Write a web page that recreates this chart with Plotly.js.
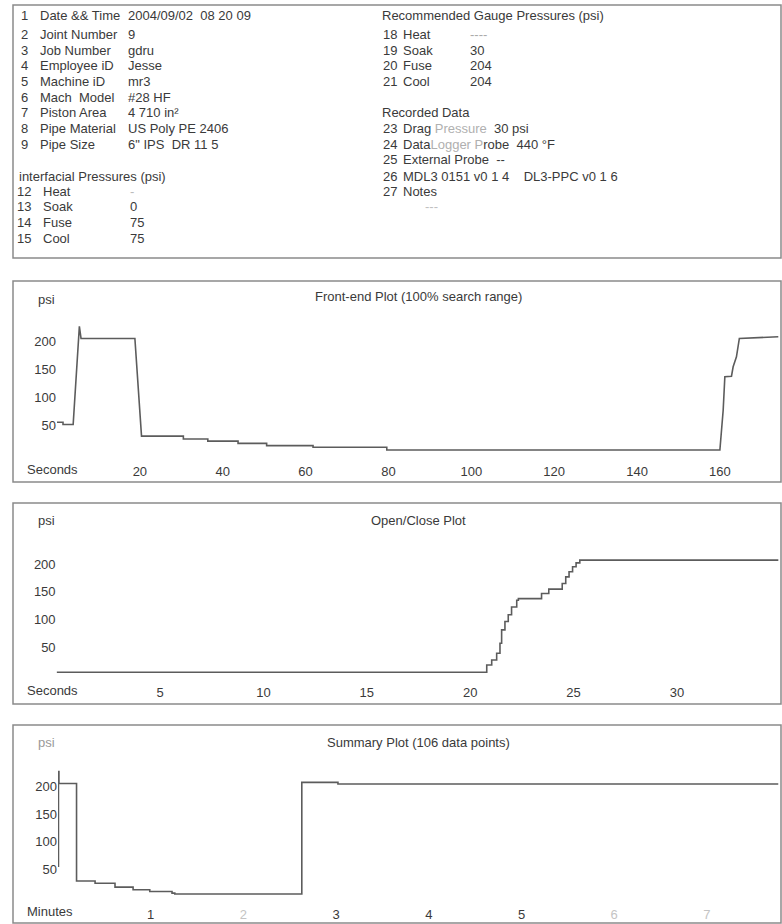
<!DOCTYPE html>
<html><head><meta charset="utf-8">
<script src="https://cdn.plot.ly/plotly-3.0.1.min.js"></script>
<style>html,body{margin:0;padding:0;background:#fff}#chart{width:782px;height:924px}</style>
</head><body><div id="chart"></div>
<script>
// ---------------- data ----------------
const frontSeconds = [0, 1.45, 1.45, 3.9, 5.4, 5.8, 18.8, 20.4, 30.5, 30.5, 36.4, 36.4, 43.7, 43.7, 50.6, 50.6, 61.8, 61.8, 79.6, 79.6, 160.0, 160.8, 161.2, 162.8, 163.2, 164.0, 164.7, 174.1];
const frontPsi     = [55, 55, 51, 51, 228, 206, 206, 30, 30, 25, 25, 21, 21, 17, 17, 13, 13, 10, 10, 5, 5, 77, 137, 138, 155, 173, 206, 209];

const openCloseSeconds = [0, 20.8, 21.04, 21.28, 21.44, 21.52, 21.68, 21.84, 22.0, 22.25, 22.33, 23.45, 23.8, 24.45, 24.62, 24.78, 24.95, 25.12, 25.3, 34.9];
const openClosePsi     = [6, 19, 28, 40, 58, 82, 97, 109, 123, 135, 138, 147, 155, 165, 177, 186, 195, 202, 207, 207];

const summaryMinutes = [0, 0.005, 0.01, 0.2, 0.4, 0.615, 0.81, 0.99, 1.23, 1.26, 2.63, 3.02, 7.77];
const summaryPsi     = [55, 228, 206, 28, 24, 17, 12, 9, 6, 4.5, 208, 205, 205];

const psiTicks = [50, 100, 150, 200];
const frontTicks = [20, 40, 60, 80, 100, 120, 140, 160];
const openCloseTicks = [5, 10, 15, 20, 25, 30];
const summaryTicks = [1, 2, 3, 4, 5, 6, 7];
const summaryTickText = ['1', '<span style="color:#c4c4c4">2</span>', '3', '4', '5', '<span style="color:#c4c4c4">6</span>', '<span style="color:#c4c4c4">7</span>'];

const plotTitles = ['Front-end Plot (100% search range)', 'Open/Close Plot', 'Summary Plot (106 data points)'];
const xUnitLabels = ['Seconds', 'Seconds', 'Minutes'];

const jobNumbers = ['1','2','3','4','5','6','7','8','9'];
const jobLabels  = ['Date &amp;&amp; Time','Joint Number','Job Number','Employee iD','Machine iD','Mach  Model','Piston Area','Pipe Material','Pipe Size'];
const jobValues  = ['2004/09/02  08 20 09','9','gdru','Jesse','mr3','#28 HF','4 710 in²','US Poly PE 2406','6" IPS  DR 11 5'];

const interfacialHeader = 'interfacial Pressures (psi)';
const interfacialNumbers = ['12','13','14','15'];
const interfacialLabels  = ['Heat','Soak','Fuse','Cool'];
const interfacialValues  = ['<span style="color:#bbb">-</span>','0','75','75'];

const gaugeHeader = 'Recommended Gauge Pressures (psi)';
const gaugeNumbers = ['18','19','20','21'];
const gaugeLabels  = ['Heat','Soak','Fuse','Cool'];
const gaugeValues  = ['<span style="color:#aaa">----</span>','30','204','204'];

const recordedHeader = 'Recorded Data';
const recordedNumbers = ['23','24','25','26','27'];
const recordedLines = [
  'Drag <span style="color:#b0b0b0">Pressure</span>  30 psi',
  'Data<span style="color:#b0b0b0">Logger P</span>robe  440 °F',
  'External Probe  --',
  'MDL3 0151 v0 1 4    DL3-PPC v0 1 6',
  'Notes'
];
const notesValue = '<span style="color:#c0c0c0">---</span>';

// ---------------- layout helpers ----------------
const W = 782, H = 924;
const FONT = 'Liberation Sans, Arial, sans-serif';
const TXT = '#3a3a3a';
const px = x => x / W;
const py = y => 1 - y / H;

function note(x, y, text, anchor, extra) {
  return Object.assign({
    xref: 'paper', yref: 'paper', x: px(x), y: py(y),
    xanchor: anchor || 'left', yanchor: 'middle', text: text, showarrow: false, borderpad: 0,
    font: {family: FONT, size: 13, color: TXT}
  }, extra || {});
}

// plot geometry (pixels): x origin, px per unit, y zero line, px per psi, top
const geo = [
  {x0: 57,   sx: 4.143, y0: 452.8, sy: 0.555, top: 305, box: [281, 482], title: 296.7, psiY: 299,   lab: 469},
  {x0: 56.6, sx: 20.68, y0: 675.6, sy: 0.558, top: 530, box: [503, 704], title: 520.7, psiY: 520.7, lab: 690},
  {x0: 58,   sx: 92.7,  y0: 896.4, sy: 0.548, top: 752, box: [725, 923], title: 742,   psiY: 742,   lab: 911.5}
];

const lineStyle = {color: '#5c5c5c', width: 1.6};
const traces = [
  {x: frontSeconds, y: frontPsi, xaxis: 'x', yaxis: 'y', type: 'scatter', mode: 'lines', line: Object.assign({shape: 'linear'}, lineStyle), hoverinfo: 'skip'},
  {x: openCloseSeconds, y: openClosePsi, xaxis: 'x2', yaxis: 'y2', type: 'scatter', mode: 'lines', line: Object.assign({shape: 'hv'}, lineStyle), hoverinfo: 'skip'},
  {x: summaryMinutes, y: summaryPsi, xaxis: 'x3', yaxis: 'y3', type: 'scatter', mode: 'lines', line: Object.assign({shape: 'hv'}, lineStyle), hoverinfo: 'skip'}
];

const tickSets = [
  {vals: frontTicks, text: frontTicks.map(String)},
  {vals: openCloseTicks, text: openCloseTicks.map(String)},
  {vals: summaryTicks, text: summaryTickText}
];

const layout = {
  width: W, height: H, margin: {l: 0, r: 0, t: 0, b: 0},
  paper_bgcolor: '#fff', plot_bgcolor: 'rgba(0,0,0,0)',
  showlegend: false, font: {family: FONT, size: 13, color: TXT},
  shapes: [], annotations: []
};

geo.forEach((g, i) => {
  const sfx = i === 0 ? '' : String(i + 1);
  layout['xaxis' + sfx] = {
    domain: [px(g.x0), 1], range: [0, (W - g.x0) / g.sx],
    anchor: 'y' + sfx, showgrid: false, zeroline: false, showline: false,
    ticks: 'outside', ticklen: Math.max(0, g.lab - g.y0 - 9.5), tickcolor: 'rgba(0,0,0,0)',
    tickmode: 'array', tickvals: tickSets[i].vals, ticktext: tickSets[i].text,
    tickfont: {family: FONT, size: 13, color: TXT},
    fixedrange: true
  };
  layout['yaxis' + sfx] = {
    domain: [py(g.y0), py(g.top)], range: [0, (g.y0 - g.top) / g.sy],
    anchor: 'x' + sfx, showgrid: false, zeroline: false, showline: false, ticks: '',
    tickmode: 'array', tickvals: psiTicks,
    tickfont: {family: FONT, size: 13, color: TXT},
    fixedrange: true
  };
  layout.shapes.push({type: 'rect', xref: 'paper', yref: 'paper', x0: px(13), x1: px(781), y0: py(g.box[1]), y1: py(g.box[0]), line: {color: '#8a8a8a', width: 1.5}});
  layout.annotations.push(note(418, g.title, plotTitles[i], 'center'));
  layout.annotations.push(note(46.5, g.psiY, 'psi', 'center', i === 2 ? {font: {family: FONT, size: 13, color: '#999'}} : {}));
  layout.annotations.push(note(26, g.lab, xUnitLabels[i], 'left'));
});

// info box
layout.shapes.push({type: 'rect', xref: 'paper', yref: 'paper', x0: px(13), x1: px(781), y0: py(258), y1: py(5), line: {color: '#8a8a8a', width: 1.5}});

// shared text rows of the info box (pixel centres)
const rows = [16, 34.6, 50.3, 65.9, 81.6, 97.2, 112.8, 128.5, 144.1, 159.8, 176, 191, 206.7, 222.3, 238];

jobNumbers.forEach((n, i) => {
  layout.annotations.push(note(29, rows[i], n, 'right'));
  layout.annotations.push(note(39, rows[i], jobLabels[i], 'left'));
  layout.annotations.push(note(127, rows[i], jobValues[i], 'left'));
});
layout.annotations.push(note(18, rows[10], interfacialHeader, 'left'));
interfacialNumbers.forEach((n, i) => {
  layout.annotations.push(note(32, rows[11 + i], n, 'right'));
  layout.annotations.push(note(42, rows[11 + i], interfacialLabels[i], 'left'));
  layout.annotations.push(note(129, rows[11 + i], interfacialValues[i], 'left'));
});

layout.annotations.push(note(381, rows[0], gaugeHeader, 'left'));
gaugeNumbers.forEach((n, i) => {
  layout.annotations.push(note(398, rows[1 + i], n, 'right'));
  layout.annotations.push(note(402, rows[1 + i], gaugeLabels[i], 'left'));
  layout.annotations.push(note(469, rows[1 + i], gaugeValues[i], 'left'));
});
layout.annotations.push(note(381, rows[6], recordedHeader, 'left'));
recordedNumbers.forEach((n, i) => {
  layout.annotations.push(note(398, rows[7 + i], n, 'right'));
  layout.annotations.push(note(402, rows[7 + i], recordedLines[i], 'left'));
});
layout.annotations.push(note(432, rows[12], notesValue, 'center'));

Plotly.newPlot('chart', traces, layout, {staticPlot: true, displayModeBar: false});
</script>
</body></html>
